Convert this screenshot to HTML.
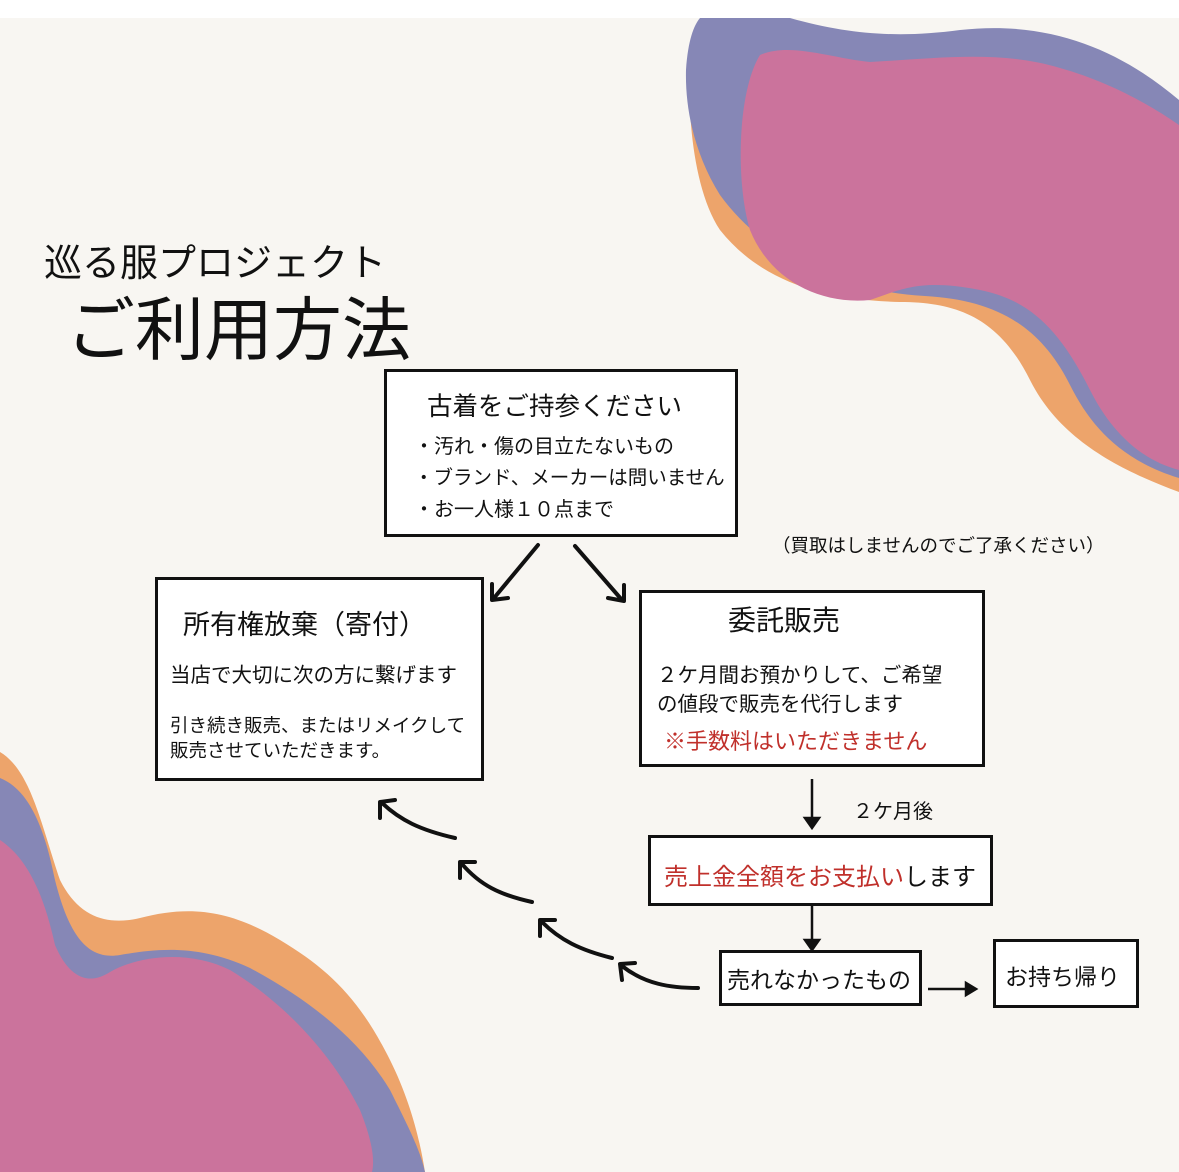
<!DOCTYPE html>
<html><head><meta charset="utf-8"><style>
body{margin:0;width:1179px;height:1172px;position:relative;overflow:hidden;background:#f8f6f2;font-family:"Liberation Sans","Noto Sans CJK JP",sans-serif;color:#111}
.top{position:absolute;left:0;top:0;width:1179px;height:18px;background:#fff}
.b{position:absolute;background:#fff;border:3px solid #111;box-sizing:border-box}
.t{position:absolute;white-space:nowrap}
.red{color:#c0302b}
svg{position:absolute;left:0;top:0}
</style></head><body>
<div class="top"></div>
<svg width="1179" height="1172" viewBox="0 0 1179 1172">
<path d="M700 60 C760 60 900 60 1179 120 L1179 492 C1120 470 1060 440 1030 380 C1000 320 960 302 900 302 C820 300 760 280 720 230 C700 200 692 150 690 110 C690 80 694 65 700 60Z" fill="#eda46b"/>
<path d="M700 18 L790 18 C850 35 900 38 960 30 C1050 20 1120 50 1179 100 L1179 478 C1120 460 1090 425 1070 385 C1040 325 995 300 925 296 C830 290 760 250 720 195 C695 155 685 110 686 70 C688 40 694 25 700 18Z" fill="#8687b6"/>
<path d="M760 55 C790 42 830 58 870 62 C940 58 1000 50 1060 68 C1110 82 1150 105 1179 125 L1179 470 C1140 460 1110 430 1090 390 C1060 330 1030 300 980 290 C920 278 900 290 870 300 C820 305 770 280 750 230 C735 180 738 90 760 55Z" fill="#cb739c"/>
<path d="M0 752 C30 770 40 820 60 880 C80 920 110 925 140 918 C190 905 230 910 280 940 C330 970 360 1000 390 1060 C410 1100 420 1140 425 1172 L0 1172Z" fill="#eda46b"/>
<path d="M0 778 C30 790 45 830 55 880 C70 940 90 960 120 955 C160 948 200 945 250 968 C310 1000 360 1040 390 1090 C410 1130 420 1150 425 1172 L0 1172Z" fill="#8687b6"/>
<path d="M0 840 C30 860 45 900 55 945 C70 980 90 985 110 972 C140 955 190 950 230 970 C280 1000 330 1050 360 1110 C372 1140 375 1160 372 1172 L0 1172Z" fill="#cb739c"/>
<g stroke="#111" stroke-width="4" fill="none" stroke-linecap="round" stroke-linejoin="round">
<line x1="538" y1="545" x2="494" y2="598"/><polyline points="492,584 492,600 508,598"/>
<line x1="575" y1="546" x2="622" y2="600"/><polyline points="608,598 624,601 624,585"/>
<path d="M455 838 C420 830 400 820 382 803"/><polyline points="380,818 380,802 395,800"/>
<path d="M532 902 C500 895 480 885 462 864"/><polyline points="460,878 460,862 475,862"/>
<path d="M612 958 C580 950 560 940 542 922"/><polyline points="540,936 540,920 555,920"/>
<path d="M698 988 C670 988 645 984 622 966"/><polyline points="622,980 620,964 635,963"/>
</g>
<g stroke="#111" stroke-width="2.5" fill="#111">
<line x1="812" y1="779" x2="812" y2="820"/><polygon points="805,818 819,818 812,828"/>
<line x1="812" y1="906" x2="812" y2="943"/><polygon points="805,940 819,940 812,950"/>
<line x1="928" y1="989" x2="968" y2="989"/><polygon points="966,983 966,995 976,989"/>
</g>
</svg>
<div class="t" style="left:44px;top:232px;font-size:38px">巡る服プロジェクト</div>
<div class="t" style="left:66px;top:274px;font-size:69px">ご利用方法</div>

<div class="b" style="left:384px;top:369px;width:354px;height:168px"></div>
<div class="t" style="left:427px;top:386px;font-size:25.5px">古着をご持参ください</div>
<div class="t" style="left:414px;top:430px;font-size:20px">・汚れ・傷の目立たないもの</div>
<div class="t" style="left:414px;top:461px;font-size:19.5px">・ブランド、メーカーは問いません</div>
<div class="t" style="left:414px;top:493px;font-size:20px">・お一人様１０点まで</div>
<div class="t" style="left:772px;top:532px;font-size:18.5px">（買取はしませんのでご了承ください）</div>

<div class="b" style="left:155px;top:577px;width:329px;height:204px"></div>
<div class="t" style="left:183px;top:603px;font-size:27px">所有権放棄（寄付）</div>
<div class="t" style="left:170px;top:658px;font-size:20.5px">当店で大切に次の方に繋げます</div>
<div class="t" style="left:170px;top:712px;font-size:18.5px">引き続き販売、またはリメイクして</div>
<div class="t" style="left:170px;top:737px;font-size:18.5px">販売させていただきます。</div>

<div class="b" style="left:639px;top:590px;width:346px;height:177px"></div>
<div class="t" style="left:728px;top:599px;font-size:28px">委託販売</div>
<div class="t" style="left:657px;top:658px;font-size:20.5px">２ケ月間お預かりして、ご希望</div>
<div class="t" style="left:657px;top:687px;font-size:20.5px">の値段で販売を代行します</div>
<div class="t red" style="left:664px;top:724px;font-size:22px">※手数料はいただきません</div>

<div class="t" style="left:853px;top:795px;font-size:20px">２ケ月後</div>
<div class="b" style="left:648px;top:835px;width:345px;height:71px"></div>
<div class="t" style="left:664px;top:857px;font-size:24px"><span class="red">売上金全額をお支払い</span>します</div>

<div class="b" style="left:719px;top:950px;width:203px;height:56px"></div>
<div class="t" style="left:727px;top:961px;font-size:23px">売れなかったもの</div>
<div class="b" style="left:993px;top:939px;width:146px;height:69px"></div>
<div class="t" style="left:1005px;top:958px;font-size:23px">お持ち帰り</div>
</body></html>
